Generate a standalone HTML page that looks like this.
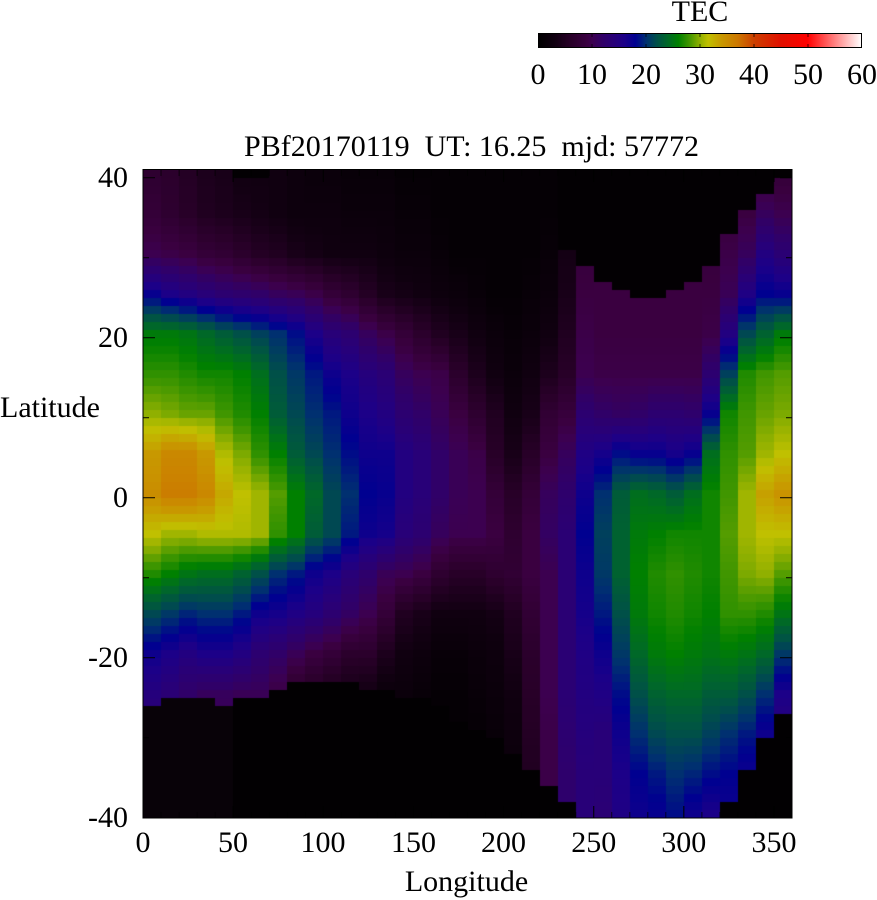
<!DOCTYPE html>
<html>
<head>
<meta charset="utf-8">
<style>
  html, body { margin:0; padding:0; background:#ffffff; }
  #wrap { position:relative; width:877px; height:900px; overflow:hidden; background:#fff; }
  #map { position:absolute; left:143px; top:170px; }
  #ov { position:absolute; left:0; top:0; }
  text { font-family:"Liberation Serif", "Times New Roman", serif; font-size:30px; fill:#000; }
</style>
</head>
<body>
<div id="wrap">
<canvas id="map" width="649" height="648"></canvas>
<svg id="ov" width="877" height="900" viewBox="0 0 877 900" xmlns="http://www.w3.org/2000/svg">
  <defs>
    <linearGradient id="cb" x1="0" y1="0" x2="1" y2="0">
      <stop offset="0" stop-color="rgb(0,0,0)"/>
      <stop offset="0.05" stop-color="rgb(16,0,16)"/>
      <stop offset="0.1" stop-color="rgb(40,0,40)"/>
      <stop offset="0.15" stop-color="rgb(58,0,64)"/>
      <stop offset="0.1667" stop-color="rgb(60,0,80)"/>
      <stop offset="0.2" stop-color="rgb(48,0,104)"/>
      <stop offset="0.2333" stop-color="rgb(40,0,120)"/>
      <stop offset="0.2667" stop-color="rgb(28,0,136)"/>
      <stop offset="0.3" stop-color="rgb(0,0,144)"/>
      <stop offset="0.3333" stop-color="rgb(0,48,112)"/>
      <stop offset="0.3667" stop-color="rgb(0,80,72)"/>
      <stop offset="0.4" stop-color="rgb(0,104,40)"/>
      <stop offset="0.4333" stop-color="rgb(0,128,0)"/>
      <stop offset="0.4667" stop-color="rgb(64,150,0)"/>
      <stop offset="0.5" stop-color="rgb(144,176,0)"/>
      <stop offset="0.525" stop-color="rgb(192,192,0)"/>
      <stop offset="0.5667" stop-color="rgb(200,152,0)"/>
      <stop offset="0.6167" stop-color="rgb(204,120,0)"/>
      <stop offset="0.6667" stop-color="rgb(204,64,0)"/>
      <stop offset="0.75" stop-color="rgb(224,16,0)"/>
      <stop offset="0.8333" stop-color="rgb(255,0,0)"/>
      <stop offset="1" stop-color="rgb(255,255,255)"/>
    </linearGradient>
  </defs>

  <!-- colorbar -->
  <text x="700" y="21" text-anchor="middle">TEC</text>
  <rect x="538.5" y="33.5" width="323" height="14" fill="url(#cb)" stroke="#000" stroke-width="1"/>
  <path d="M592 34v3M646 34v3M700 34v3M754 34v3M808 34v3M592 47v-3M646 47v-3M700 47v-3M754 47v-3M808 47v-3" stroke="#000" stroke-width="1" opacity="0.7"/>
  <text x="538" y="84" text-anchor="middle">0</text>
  <text x="592" y="84" text-anchor="middle">10</text>
  <text x="646" y="84" text-anchor="middle">20</text>
  <text x="700" y="84" text-anchor="middle">30</text>
  <text x="754" y="84" text-anchor="middle">40</text>
  <text x="808" y="84" text-anchor="middle">50</text>
  <text x="862" y="84" text-anchor="middle">60</text>

  <!-- title -->
  <text x="471.5" y="156" text-anchor="middle" xml:space="preserve">PBf20170119  UT: 16.25  mjd: 57772</text>

  <!-- y tick labels -->
  <text x="128" y="187" text-anchor="end">40</text>
  <text x="128" y="347" text-anchor="end">20</text>
  <text x="128" y="507" text-anchor="end">0</text>
  <text x="128" y="667" text-anchor="end">-20</text>
  <text x="128" y="827" text-anchor="end">-40</text>
  <text x="0" y="417">Latitude</text>

  <!-- x tick labels -->
  <text x="143" y="852" text-anchor="middle">0</text>
  <text x="233" y="852" text-anchor="middle">50</text>
  <text x="323" y="852" text-anchor="middle">100</text>
  <text x="413.5" y="852" text-anchor="middle">150</text>
  <text x="503.5" y="852" text-anchor="middle">200</text>
  <text x="593.7" y="852" text-anchor="middle">250</text>
  <text x="683.8" y="852" text-anchor="middle">300</text>
  <text x="774" y="852" text-anchor="middle">350</text>
  <text x="466.5" y="891" text-anchor="middle">Longitude</text>

  <!-- ticks -->
  <g stroke="#000" stroke-width="1.2" fill="none" opacity="0.85">
    <path d="M143 177.7h12M143 337.7h12M143 497.7h12M143 657.7h12M143 257.7h6M143 417.7h6M143 577.7h6M143 737.7h6"/>
    <path d="M792 177.7h-12M792 337.7h-12M792 497.7h-12M792 657.7h-12M792 257.7h-6M792 417.7h-6M792 577.7h-6M792 737.7h-6"/>
    <path d="M233.1 818v-12M323.3 818v-12M413.4 818v-12M503.6 818v-12M593.7 818v-12M683.8 818v-12M774 818v-12"/>
    <path d="M233.1 170v12M323.3 170v12M413.4 170v12M503.6 170v12M593.7 170v12M683.8 170v12M774 170v12"/>
  </g>
  <g id="minor" stroke="#000" stroke-width="1" fill="none" opacity="0.7"></g>

  <!-- border -->
  <rect x="143" y="169.5" width="649" height="648.5" fill="none" stroke="#000" stroke-width="1"/>
</svg>
</div>
<script>
(function(){
  var P=[[0,0,0,0],[3,16,0,16],[6,40,0,40],[9,58,0,64],[10,60,0,80],[12,48,0,104],[14,40,0,120],[16,28,0,136],[18,0,0,144],[20,0,48,112],[22,0,80,72],[24,0,104,40],[26,0,128,0],[28,64,150,0],[30,144,176,0],[31.5,192,192,0],[34,200,152,0],[37,204,120,0],[40,204,64,0],[45,224,16,0],[50,255,0,0],[60,255,255,255]];
  function col(v){
    if(v<=0) return [0,0,0];
    for(var i=0;i<P.length-1;i++){
      var a=P[i],b=P[i+1];
      if(v<=b[0]){
        var f=(v-a[0])/(b[0]-a[0]);
        return [Math.round(a[1]+(b[1]-a[1])*f),Math.round(a[2]+(b[2]-a[2])*f),Math.round(a[3]+(b[3]-a[3])*f)];
      }
    }
    return [255,255,255];
  }
  var D=[
   [0,67,[7,8,10,17.5,25.5,27.5,30,34,35,31.5,27,21.5,17,14.5,13,12,12]],
   [0,66,[6.5,7,9.5,16,25.5,27.5,29.5,35.5,36.5,30.5,26,20.5,16,13.5,12,12,12]],
   [0,66,[5.5,6,9,15,25,27,29,35.5,36.5,30.5,25,19.5,15,12,11,11,11]],
   [0,66,[4.5,5,8,14,24,26.5,29,34,35.5,31,24.5,20,16,11,10,10,10]],
   [0,67,[4,4.5,7.5,13,23,26.5,28,31,33,31,24.5,20,16,11,10,10,10]],
   [1,66,[3,4,6.5,12.5,22,26,27,29.5,31.5,31,23.5,19,15,10.5,10,10,10]],
   [1,66,[3,3.5,5.5,12,21,24.5,26,27.5,30.5,30.5,22,17,13,10.5,10,10,10]],
   [0,65,[3,3,5,11,20,22,23,26,28.5,27.5,20,16.5,12,9,8,8,8]],
   [0,64,[2.5,2.5,4,10.5,18.5,20.5,21.5,23,26,26,19,15.5,10.5,6,5,5,5]],
   [0,64,[2,2.5,3.5,9.5,16,19,20,21.5,24,23,17,14.5,9,5,4,4,4]],
   [0,64,[2,2.5,3,8,14,17,19,20,21.5,21.5,16,13,8,4,3,3,3]],
   [0,64,[1.5,2,3,7,13,16,17,18.5,20,19,14,11.5,6.5,3.5,3,3,3]],
   [0,65,[1.5,2,3,5.5,11,14.5,16,17,18,17,12.5,10,6.5,3,2,2,2]],
   [0,65,[1.5,2,2.5,4,9.5,13.5,15,17,17.5,16.5,10.5,8,4.5,2,1.5,1.5,1.5]],
   [0,66,[1,1.5,2,3.5,8,11,13,15,15,14,10,5,3,2,1.5,1.5,1.5]],
   [0,66,[1,1.5,2,3,6.5,10,12,14,14,13,9,4,2.5,1.5,1,1,1]],
   [0,67,[1,1,1.5,2.5,5,9.5,10.5,12,12,11,7,3,1.5,1,1,1,1]],
   [0,69,[1,1,1,2,4,6.5,9,10.5,10.5,10,6,3,1.5,1,1,1,1]],
   [0,70,[1,1,1,1.5,3,4.5,7,9.5,10,10,6,3,2,1.5,1,1,1]],
   [0,71,[1,1,1,1,2,3,5,6,8,9,7,3.5,2.5,2,1.5,1,1]],
   [0,73,[1,1,1,1,1.5,2,3,4,6,7,7.5,5,4,3,2.5,2,2]],
   [0,75,[1,1,1,1.5,2,3,4,6,8,9,9,7.5,6.5,6,5.5,5,5]],
   [0,77,[1,1,1.5,2,3,4.5,7.5,9,11,11.5,10,10,10,10,9.5,9.5,9.5]],
   [10,79,[3,3,3.5,4,5,6,8.5,11,12.5,13.5,13.5,13.5,13.5,13.5,13,12.5,12.5]],
   [12,81,[8,8,8.5,9,9.5,10,13,15.5,17,18,17,16.5,15.5,15,14.5,14,14]],
   [14,81,[9,9,9,9,9,9.5,12,16.5,20,21,20.5,19,17,15.5,14,14,13.5]],
   [15,81,[9,9,9,9,9,9.5,11.5,18.5,23,23.5,23.5,22,20.5,18.5,17,16,15.5]],
   [16,81,[9,9,9,9,9,9.5,12,17.5,24.5,25.5,26,25.5,24,22,20,18,17]],
   [16,81,[9,9,9,9,9,9.5,13,17.5,24,26,27,26.5,25.5,23.5,21.5,19,17.5]],
   [15,81,[9,9,9,9,9,9.5,13,16.5,23,26.5,27.5,27,26,24,22,20,18.5]],
   [14,81,[9,9,9,9,9,9.5,12.5,17.5,24.5,26.5,27,26.5,25.5,24,22,19.5,17]],
   [12,81,[8.5,8.5,8.5,9,9.5,13,17.5,24.5,26.5,26.5,26.5,26,25,23,21,18.5,16]],
   [8,79,[8.5,8.5,9.5,10.5,15,21,26.5,27.5,28,28.5,28,27.5,25.5,23,20,18,17]],
   [5,75,[8,9,11,15.5,21.5,27,28,28.5,30.5,30.5,29.5,27.5,25,22,19,17,17]],
   [3,71,[8,11,15,18,23.5,28,29,30.5,33.5,31.5,30,27,24,20,17,15,15]],
   [1,68,[8,10,13.5,17.5,25.5,28.5,29.5,31.5,34.5,31.5,28.5,25,20.5,16,14,14,14]]
  ];
  var cv=document.getElementById('map');
  var ctx=cv.getContext('2d');
  ctx.fillStyle='#000';
  ctx.fillRect(0,0,649,648);
  for(var c=0;c<36;c++){
    var x0=Math.round(c*649/36), x1=Math.round((c+1)*649/36);
    var t=D[c][0], b=D[c][1], a=D[c][2];
    for(var r=0;r<81;r++){
      var rgb;
      if(r<t){ rgb=[3,0,3]; }
      else if(r>=b){ rgb=(c<=4)?[8,2,8]:[2,0,2]; }
      else {
        var f=r/5, i=Math.floor(f), fr=f-i;
        var v=(i>=16)?a[16]:a[i]*(1-fr)+a[i+1]*fr;
        rgb=col(v);
      }
      ctx.fillStyle='rgb('+rgb[0]+','+rgb[1]+','+rgb[2]+')';
      ctx.fillRect(x0,r*8,x1-x0,8);
    }
  }
  var g=document.getElementById('minor'), d='';
  for(var lon=10;lon<360;lon+=10){
    if(lon%50===0) continue;
    var x=(143+lon*649/360).toFixed(1);
    d+='M'+x+' 818v-6M'+x+' 170v6';
  }
  var p=document.createElementNS('http://www.w3.org/2000/svg','path');
  p.setAttribute('d',d);
  g.appendChild(p);
})();
</script>
</body>
</html>
